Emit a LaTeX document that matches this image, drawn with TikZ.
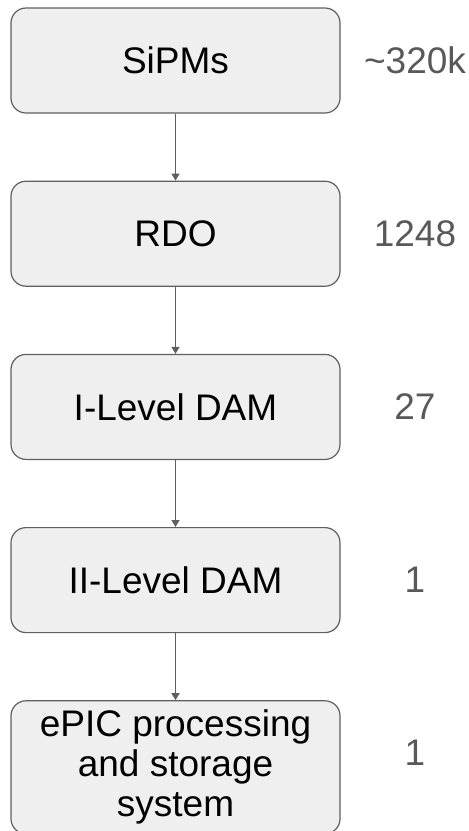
\documentclass[tikz,border=0pt]{standalone}
\usepackage{fontspec}
\setmainfont{Liberation Sans}
\usepackage{tikz}
\usetikzlibrary{positioning,arrows.meta}

\definecolor{boxfill}{HTML}{EFEFEF}
\definecolor{boxedge}{HTML}{5F5F5F}
\definecolor{numgray}{HTML}{595959}

\begin{document}
\begin{tikzpicture}[x=1pt,y=-1pt,
  node distance=67pt,
  stage/.style={draw=boxedge, fill=boxfill, line width=1.2pt, rounded corners=15pt,
    minimum width=329pt, minimum height=105pt, align=center,
    font=\fontsize{37}{40}\selectfont},
  count/.style={text=numgray, font=\fontsize{37}{40}\selectfont},
  flow/.style={draw=boxedge, line width=1.3pt, -{Triangle[width=8pt,length=7pt]}}]

  \useasboundingbox (0,0) rectangle (469,831);

  \node[stage] (sipm) at (175.5,60.5) {SiPMs};
  \node[stage, below=of sipm] (rdo) {RDO};
  \node[stage, below=of rdo] (dam1) {I-Level DAM};
  \node[stage, below=of dam1] (dam2) {II-Level DAM};
  \node[stage, below=of dam2, minimum height=133pt] (epic) {ePIC processing\\and storage\\system};

  % counts on the right
  \coordinate (xcol) at (415,0);
  \node[count] (nsipm) at (sipm.center -| xcol) {\textasciitilde 320k};
  \node[count] (nrdo) at (rdo.center -| xcol) {1248};
  \node[count] (ndam1) at (dam1.center -| xcol) {27};
  \node[count] (ndam2) at (dam2.center -| xcol) {1};
  \node[count, yshift=15pt] (nepic) at (epic.center -| xcol) {1};

  \draw[flow] (sipm) -- (rdo);
  \draw[flow] (rdo) -- (dam1);
  \draw[flow] (dam1) -- (dam2);
  \draw[flow] (dam2) -- (epic);
\end{tikzpicture}
\end{document}
